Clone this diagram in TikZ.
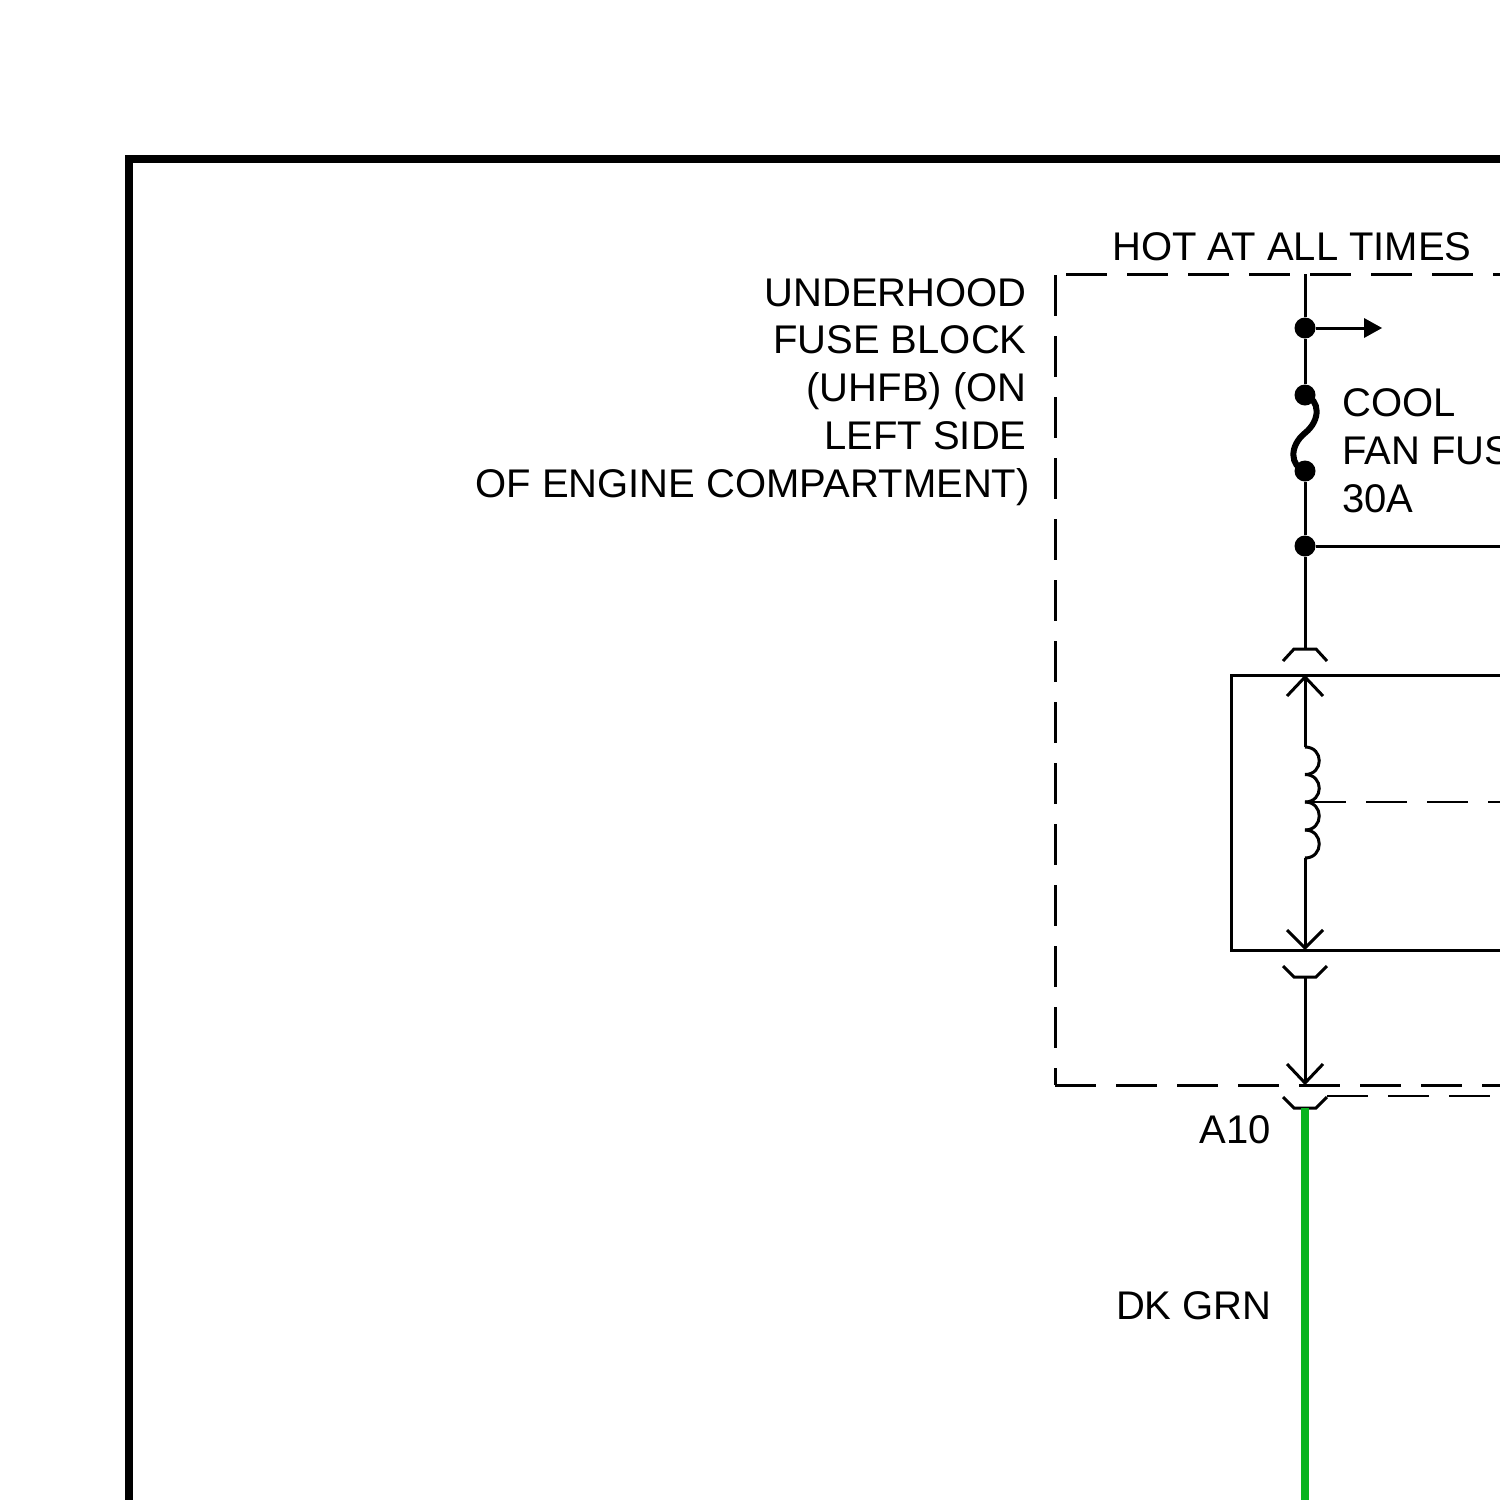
\documentclass[tikz,border=0pt]{standalone}
\usepackage{fontspec}
\setmainfont{Liberation Sans}
\definecolor{wiregreen}{RGB}{8,180,32}
\tikzset{
  frameline/.style={line width=4pt},
  wire/.style={line width=1.5pt},
  blockdash/.style={line width=1.5pt, dash pattern=on 20.5pt off 10pt},
  linkdash/.style={line width=0.9pt, dash pattern=on 20.5pt off 10pt},
  dot/.style={circle, fill=black, inner sep=0pt, minimum size=10.5pt},
  labeltext/.style={inner sep=0pt, font=\fontsize{20}{23.85}\selectfont},
}
\begin{document}
\begin{tikzpicture}[x=0.5pt, y=-0.5pt]

    % Page size, same as the reference
    \clip (0, 0) rectangle (1500, 1500);
    \fill[white] (0, 0) rectangle (1500, 1500);

    % Outer frame, it runs off the page
    \draw[frameline] (129, 1510) -- (129, 159) -- (1510, 159);

    % Dashed outline of the fuse block
    \draw[blockdash] (1066, 274) -- (1510, 274);
    \draw[blockdash] (1055, 275) -- (1055, 1085);
    \draw[blockdash] (1055, 1085) -- (1510, 1085);

    % Define points on the main wire
    \coordinate (Top) at (1305, 274);
    \coordinate (ArrowEnd) at (1382, 328);
    \coordinate (BusEnd) at (1510, 546);
    \node[dot] (Split) at (1305, 328) {};
    \node[dot] (FuseTop) at (1305, 395) {};
    \node[dot] (FuseBottom) at (1305, 471) {};
    \node[dot] (Bus) at (1305, 546) {};

    % Wire from the top down to the upper socket
    \coordinate (SocketA) at (1305, 649);
    \draw[wire] (Top) -- (Split) -- (FuseTop);
    \draw[wire] (FuseBottom) -- (Bus) -- (SocketA);
    \draw[wire] (Bus) -- (BusEnd);

    % Small arrow to the right of the first dot
    \draw[wire] (Split) -- (1366, 328);
    \fill (ArrowEnd) -- (1364, 318) -- (1364, 338) -- cycle;

    % Fuse link
    \draw[line width=3pt] (1305, 395) .. controls (1320, 400) and (1321, 420) .. (1305, 433)
        .. controls (1289, 446) and (1290, 466) .. (1305, 471);

    % Sockets
    \draw[wire] (1283, 661) -- (1294, 649) -- (1316, 649) -- (1327, 661);
    \draw[wire] (1283, 966) -- (1294, 977) -- (1316, 977) -- (1327, 966);
    \draw[wire] (1283, 1097) -- (1294, 1108) -- (1316, 1108) -- (1327, 1097);

    % Relay box
    \draw[wire] (1510, 675) -- (1231, 675) -- (1231, 950) -- (1510, 950);

    % Coil with its two leads
    \coordinate (CoilTop) at (1305, 747);
    \coordinate (CoilMid) at (1305, 802);
    \coordinate (CoilBottom) at (1305, 858);
    \coordinate (PinTop) at (1305, 677);
    \coordinate (PinBottom) at (1305, 948);
    \draw[wire] (PinTop) -- (CoilTop);
    \draw[wire] (CoilBottom) -- (PinBottom);
    \foreach \ya/\yb in {747/774.5, 774.5/802, 802/830, 830/858} {
        \draw[wire] (1305, \ya) .. controls (1324, \ya) and (1324, \yb) .. (1305, \yb);
    }
    \draw[wire] (1287, 696) -- (PinTop) -- (1323, 696);
    \draw[wire] (1287, 930) -- (PinBottom) -- (1323, 930);

    % Dashed link from the coil
    \draw[linkdash] (CoilMid) -- (1510, 802);

    % Wire between the lower sockets
    \coordinate (SocketB) at (1305, 977);
    \coordinate (PinC) at (1305, 1083);
    \draw[wire] (SocketB) -- (PinC);
    \draw[wire] (1287, 1064) -- (PinC) -- (1323, 1064);

    % Dashed link from the last socket
    \draw[linkdash] (1327, 1096) -- (1510, 1096);

    % Green wire
    \coordinate (SocketC) at (1305, 1108);
    \coordinate (GreenEnd) at (1305, 1510);
    \draw[wiregreen, line width=4.2pt] (SocketC) -- (GreenEnd);

    % Add text labels
    \node[labeltext, anchor=base east] (HotLabel) at (1472, 260) {HOT AT ALL TIMES};
    \node[labeltext, anchor=base east, align=right] (BlockLabel) at (1027, 497)
        {UNDERHOOD\\FUSE BLOCK\\(UHFB) (ON\\LEFT SIDE\\OF ENGINE COMPARTMENT)\hspace*{-1.5pt}};
    \node[labeltext, anchor=base west, align=left] (FuseLabel) at (1342, 512)
        {COOL\\FAN FUSE\\30A};
    \node[labeltext, anchor=base east] (PinLabel) at (1271, 1143) {A10};
    \node[labeltext, anchor=base east] (ColorLabel) at (1272, 1319) {DK GRN};

\end{tikzpicture}
\end{document}
